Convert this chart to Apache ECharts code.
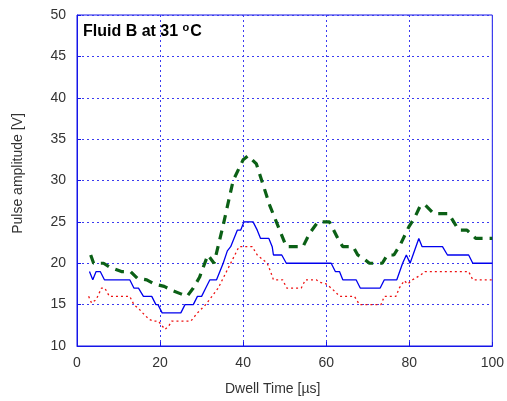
<!DOCTYPE html>
<html>
<head>
<meta charset="utf-8">
<script src="https://cdn.jsdelivr.net/npm/echarts@6/dist/echarts.min.js"></script>
<style>html,body{margin:0;padding:0;background:#fff}#c{width:507px;height:401px}</style>
</head>
<body>
<div id="c"></div>
<script>
// Series data (Dwell time in µs, pulse amplitude in V)
var blueT = [3,3.8,4.6,5.6,6.6,12.7,13.7,14.8,16,18,19,19.5,20.5,25,26,28,29,30,31,32,33.6,34.4,35.2,36.2,37,37.8,38.6,39.4,40.2,42.4,43.4,44.2,46.2,47,47.3,49.3,50.4,61.2,62.2,63.2,64,67.2,68.2,73,74,77,78.4,79.3,80.2,82.3,83.1,88,89.2,94.3,95.3,100];
var blueV = [19,18,19,19,18,18,17,17,16,16,15,15,14,14,15,15,16,16,17,18,18,19,20,21.5,22,23,24,24,25,25,24,23,23,22,21,21,20,20,19,19,18,18,17,17,18,18,20,21,20,23,22,22,21,21,20,20];

var redT = [2.8,3.5,4.6,5.9,6.7,7.8,12.7,13.7,14.9,15.8,17.4,18.4,19.6,20.4,21.2,22.2,22.8,27.4,28.2,29,30,31,32.5,34,35,36,37,38,39,42.2,43.4,44.6,45.8,46.6,47.3,49.5,50.5,54,55,57.6,58.5,60,61.2,62.3,63.2,66.8,68,73.2,74,76.8,77.6,78.8,79.6,80.8,82.8,83.8,94.3,95.3,100];
var redV = [16,15.2,15.6,17,17,16,16,15,14.5,14,13.2,13,13,12.5,12,12.5,13,13,13.5,14,14.5,15,16,17,18,19,20,21,22,22,21,20.5,20,19,18,18,17,17,18,18,17.7,17.5,17,16.5,16,16,15,15,16,16,17,17.9,17.5,18,18.6,19,19,18,18];

var greenT = [3.3,4,6.4,8,10.7,12.9,14.5,16.8,18.6,21,23,25,26.5,28,29.5,31.5,33,35.2,37.6,40,41.2,43.2,46.4,48.8,50.4,54.4,56,58,60.8,62.8,64,66.5,67.6,69.2,70.4,73.5,74.7,76.3,77.9,79.9,81.3,82.7,83.9,85.9,87.1,89.5,90.7,91.9,93.9,96,100];
var greenV = [21,20,20,19.5,19,19,18.2,18,17.5,17.2,16.7,16.3,16,17,18.3,21,20,24.6,30,32.5,33,32,27,24,22,22,23.6,25,25,23,22,22,21,20.5,20,20,21,21,22.3,24.4,25.5,27,27,26,26,26,25,24,24,23,23];

var xTicks = [0,20,40,60,80,100];
var yTicks = [10,15,20,25,30,35,40,45,50];

function pairs(t, v){ return t.map(function(x,i){ return [x, v[i]]; }); }

var chart = echarts.init(document.getElementById('c'), null, {renderer:'canvas'});
var gridLine = {show:true, lineStyle:{color:'#3b3bf0', width:1, type:[2,3]}};
var labelStyle = {color:'#333', fontSize:14, fontFamily:'Liberation Sans, Arial, sans-serif'};
chart.setOption({
  animation:false,
  backgroundColor:'#fff',
  grid:{left:77, right:14, top:15, bottom:52, show:true, borderColor:'#1515e8', borderWidth:1, backgroundColor:'transparent'},
  title:{
    left:78, top:17,
    text:'{b|Fluid B at 31 }{s|o}{b|C}',
    textStyle:{rich:{
      b:{fontSize:16, fontWeight:'bold', color:'#000', fontFamily:'Liberation Sans, Arial, sans-serif', verticalAlign:'bottom', lineHeight:18},
      s:{fontSize:11, fontWeight:'bold', color:'#000', fontFamily:'Liberation Sans, Arial, sans-serif', verticalAlign:'top', lineHeight:18, padding:[0,1,9,0]}
    }}
  },
  xAxis:{
    type:'value', min:0, max:100, interval:20,
    name:'Dwell Time [\u00b5s]', nameLocation:'middle', nameGap:36,
    nameTextStyle:{color:'#333', fontSize:14, fontFamily:'Liberation Sans, Arial, sans-serif', padding:[0,24,0,0]},
    axisLine:{show:true, lineStyle:{color:'#1515e8'}},
    axisTick:{show:true, inside:true, length:4, lineStyle:{color:'#1515e8'}},
    axisLabel:Object.assign({margin:10}, labelStyle),
    splitLine:gridLine
  },
  yAxis:{
    type:'value', min:10, max:50, interval:5,
    name:'Pulse amplitude [V]', nameLocation:'middle', nameGap:52,
    nameTextStyle:{color:'#333', fontSize:14, fontFamily:'Liberation Sans, Arial, sans-serif', padding:[0,0,0,14]},
    axisLine:{show:true, lineStyle:{color:'#1515e8'}},
    axisTick:{show:true, inside:true, length:4, lineStyle:{color:'#1515e8'}},
    axisLabel:Object.assign({margin:11}, labelStyle),
    splitLine:gridLine
  },
  series:[
    {type:'line', data:pairs(greenT, greenV), symbol:'none', lineStyle:{color:'#0b6016', width:3.2, type:[9,7]}, z:3},
    {type:'line', data:pairs(blueT, blueV), symbol:'none', lineStyle:{color:'#0000ee', width:1.3}, z:4},
    {type:'line', data:pairs(redT, redV), symbol:'none', lineStyle:{color:'#ee1111', width:1.3, type:[2,3]}, z:5}
  ]
});
</script>
</body>
</html>
